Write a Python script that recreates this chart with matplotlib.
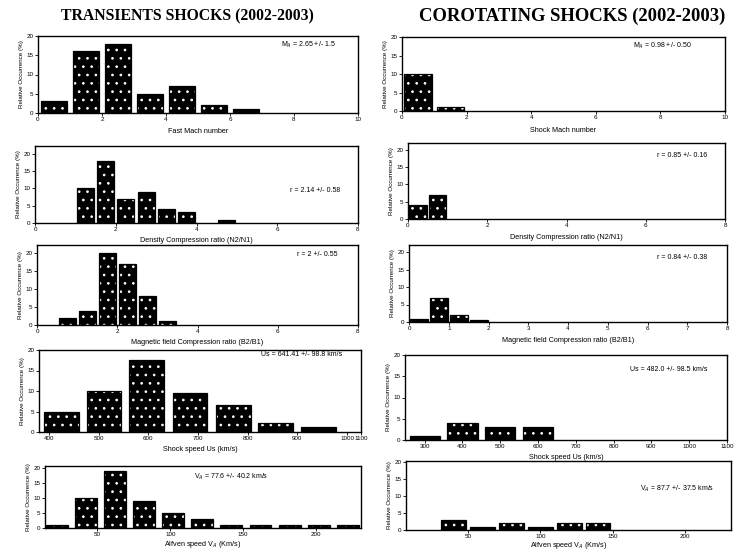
import matplotlib
matplotlib.use("Agg")
import matplotlib.pyplot as plt

plt.rcParams['font.family'] = ['Liberation Sans', 'DejaVu Sans']
plt.rcParams['hatch.linewidth'] = 0.7

W, H = 738, 551

# ---------------- data ----------------
# Transient shocks (left column)
mach_t_x = [0.5, 1.5, 2.5, 3.5, 4.5, 5.5, 6.5]
mach_t_y = [3, 16, 18, 5, 7, 2, 1]
dens_t_x = [1.25, 1.75, 2.25, 2.75, 3.25, 3.75, 4.75]
dens_t_y = [10, 18, 7, 9, 4, 3.2, 1]
mag_t_x = [0.75, 1.25, 1.75, 2.25, 2.75, 3.25]
mag_t_y = [2, 4, 20, 17, 8, 1]
us_t_x = [425, 511, 596, 684, 772, 856, 943]
us_t_y = [5, 10, 17.5, 9.5, 6.5, 2.2, 1.3]
va_t_x = [22, 42, 62, 82, 102, 122, 142, 162, 182, 202, 222]
va_t_y = [1, 10, 19, 9, 5, 3, 1, 1, 1, 1, 1]

# Corotating shocks (right column)
mach_c_x = [0.5, 1.5]
mach_c_y = [10, 1]
dens_c_x = [0.25, 0.75]
dens_c_y = [4, 7]
mag_c_x = [0.25, 0.75, 1.25, 1.75]
mag_c_y = [1, 7, 2, 0.7]
us_c_x = [300, 400, 500, 600]
us_c_y = [1, 4, 3, 3]
va_c_x = [40, 60, 80, 100, 120, 140]
va_c_y = [3, 1, 2, 1, 2, 2]

titles = ["TRANSIENTS SHOCKS (2002-2003)", "COROTATING SHOCKS (2002-2003)"]
ylabel = "Relative Occurrence (%)"

mach_ticks = [0, 2, 4, 6, 8, 10]
ratio_ticks = [0, 2, 4, 6, 8]
ratio_ticks_1 = [0, 1, 2, 3, 4, 5, 6, 7, 8]
us_t_ticks = [400, 500, 600, 700, 800, 900, 1000, 1028]
us_t_labels = ["400", "500", "600", "700", "800", "900", "1000", "1100"]
us_c_ticks = [300, 400, 500, 600, 700, 800, 900, 1000, 1100]
va_ticks = [50, 100, 150, 200]

panels = [
    dict(box=(38, 36, 358, 113), x=mach_t_x, y=mach_t_y, w=0.82, xlim=(0, 10), ylim=(0, 20),
         xt=mach_ticks, xl="Fast Mach number", note=r"M$_A$ = 2.65 +/- 1.5", npos=(0.76, 0.88), lp=4),
    dict(box=(402, 37, 725, 111), x=mach_c_x, y=mach_c_y, w=0.85, xlim=(0, 10), ylim=(0, 20),
         xt=mach_ticks, xl="Shock Mach number", note=r"M$_A$ = 0.98 +/- 0.50", npos=(0.715, 0.88), lp=5),
    dict(box=(35, 146, 358, 223), x=dens_t_x, y=dens_t_y, w=0.42, xlim=(0, 8), ylim=(0, 22.3),
         xt=ratio_ticks, xl="Density Compression ratio (N2/N1)", note="r = 2.14 +/- 0.58", npos=(0.79, 0.42), lp=3),
    dict(box=(408, 143, 725, 219), x=dens_c_x, y=dens_c_y, w=0.44, xlim=(0, 8), ylim=(0, 22),
         xt=ratio_ticks, xl="Density Compression ratio (N2/N1)", note="r = 0.85 +/- 0.16", npos=(0.785, 0.84), lp=4),
    dict(box=(37, 245, 358, 325), x=mag_t_x, y=mag_t_y, w=0.42, xlim=(0, 8), ylim=(0, 22.2),
         xt=ratio_ticks, xl="Magnetic field Compression ratio (B2/B1)", note="r = 2 +/- 0.55", npos=(0.81, 0.875), lp=3),
    dict(box=(409, 245, 727, 322), x=mag_c_x, y=mag_c_y, w=0.45, xlim=(0, 8), ylim=(0, 22),
         xt=ratio_ticks_1, xl="Magnetic field Compression ratio (B2/B1)", note="r = 0.84 +/- 0.38", npos=(0.78, 0.84), lp=4),
    dict(box=(39, 350, 361, 432), x=us_t_x, y=us_t_y, w=70, xlim=(380, 1028), ylim=(0, 20),
         xt=us_t_ticks, xtl=us_t_labels, xl="Shock speed Us (km/s)", note="Us = 641.41 +/- 98.8 km/s",
         npos=(0.69, 0.94), lp=3),
    dict(box=(405, 355, 727, 440), x=us_c_x, y=us_c_y, w=80, xlim=(248, 1100), ylim=(0, 20),
         xt=us_c_ticks, xl="Shock speed Us (km/s)", note="Us = 482.0 +/- 98.5 km/s", npos=(0.70, 0.835), lp=3),
    dict(box=(45, 466, 361, 528), x=va_t_x, y=va_t_y, w=15, xlim=(14, 231), ylim=(0, 20.7),
         xt=va_ticks, xl=r"Alfven speed V$_A$ (Km/s)", note=r"V$_A$ = 77.6 +/- 40.2 km/s", npos=(0.47, 0.83), lp=1),
    dict(box=(406, 461, 731, 530), x=va_c_x, y=va_c_y, w=17, xlim=(7, 232), ylim=(0, 20.2),
         xt=va_ticks, xl=r"Alfven speed V$_A$ (Km/s)", note=r"V$_A$ = 87.7 +/- 37.5 km/s", npos=(0.72, 0.59), lp=0.5),
]

fig = plt.figure(figsize=(W / 100, H / 100), dpi=100)

for p in panels:
    l, t, r, b = p['box']
    ax = fig.add_axes([l / W, 1 - b / H, (r - l) / W, (b - t) / H])
    ax.bar(p['x'], p['y'], width=p['w'], color='black', edgecolor='white', hatch='..', linewidth=0)
    ax.bar(p['x'], p['y'], width=p['w'], fill=False, edgecolor='black', linewidth=0.9)
    ax.set_xlim(*p['xlim'])
    ax.set_ylim(*p['ylim'])
    ax.set_xticks(p['xt'])
    if 'xtl' in p:
        ax.set_xticklabels(p['xtl'])
    ax.set_yticks([0, 5, 10, 15, 20])
    ax.tick_params(labelsize=4.5, length=2, width=0.6, pad=1.2)
    for s in ax.spines.values():
        s.set_linewidth(1.0)
    ax.set_xlabel(p['xl'], fontsize=5.2, labelpad=p['lp'])
    ax.set_ylabel(ylabel, fontsize=4.5, labelpad=2)
    ax.text(p['npos'][0], p['npos'][1], p['note'], transform=ax.transAxes, fontsize=5,
            ha='left', va='center')

fig.text(187 / W, 1 - 16 / H, titles[0], fontsize=11.3, fontweight='bold',
         family=['Liberation Serif', 'DejaVu Serif'], ha='center', va='center')
fig.text(572 / W, 1 - 16 / H, titles[1], fontsize=13.4, fontweight='bold',
         family=['Liberation Serif', 'DejaVu Serif'], ha='center', va='center')

fig.savefig("out.png", dpi=100)
